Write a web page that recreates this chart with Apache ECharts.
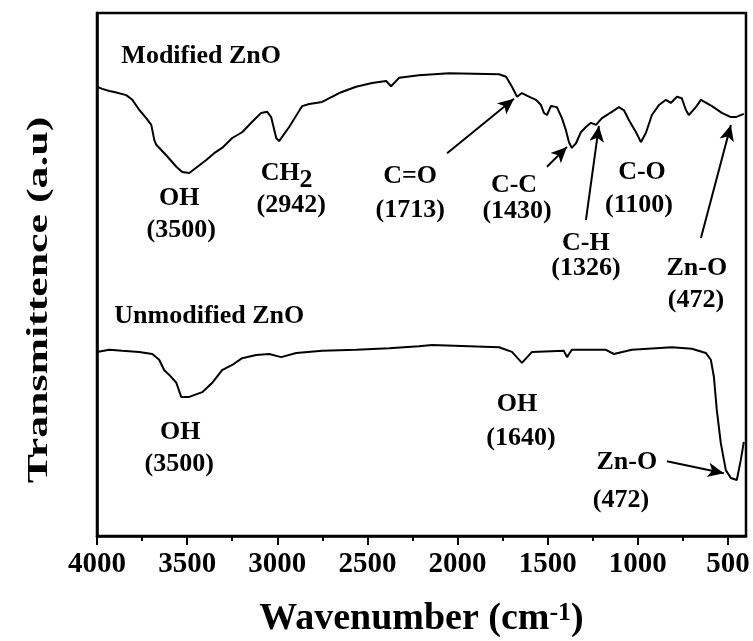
<!DOCTYPE html>
<html>
<head>
<meta charset="utf-8">
<script src="https://cdn.jsdelivr.net/npm/echarts@6/dist/echarts.min.js"></script>
<style>
html,body{margin:0;padding:0;background:#fff;}
#chart{width:753px;height:641px;}
</style>
</head>
<body>
<div id="chart"></div>
<script>
// ---- data ----
const modWavenumber = [4000,3971,3932,3904,3838,3804,3766,3727,3699,3682,3671,3616,3560,3527,3488,3450,3394,3350,3306,3250,3195,3139,3089,3056,3034,3006,2990,2934,2862,2823,2751,2657,2563,2474,2396,2369,2324,2214,2047,1770,1731,1698,1670,1643,1604,1565,1537,1521,1504,1482,1449,1421,1399,1382,1366,1343,1316,1288,1260,1232,1199,1144,1105,1077,1049,1010,983,955,922,883,844,817,783,756,734,717,678,650,589,534,484,456,412];
const modTransmittance = [85.9,85.5,85.1,84.9,84.3,83.4,81.5,79.9,78.6,75.7,74.8,72.8,70.6,69.6,69.4,70.4,71.9,73.2,74.2,76.1,77.2,79.2,80.9,81.1,80.1,76.1,75.5,78.2,82.2,82.6,83.0,84.7,85.9,86.6,87.0,86.0,87.6,88.1,88.5,88.3,87.8,85.9,84.0,84.7,84.0,83.4,82.4,80.9,80.5,82.2,82.0,79.9,77.6,75.3,74.2,75.1,77.2,78.2,79.0,78.6,79.9,81.1,82.0,81.4,79.5,77.2,75.3,77.1,80.5,82.4,83.4,82.8,84.0,83.7,81.5,80.5,82.0,83.4,82.2,80.9,80.1,80.1,80.7];

const unmodWavenumber = [4000,3932,3860,3766,3693,3655,3627,3599,3560,3533,3488,3416,3361,3306,3250,3195,3117,3045,2978,2895,2751,2563,2380,2214,2142,1770,1698,1643,1587,1410,1399,1393,1366,1177,1133,1033,811,700,623,595,578,562,540,512,484,451,429,412];
const unmodTransmittance = [35.2,35.6,35.4,35.2,34.8,33.7,31.7,30.8,29.3,26.6,26.6,27.5,29.3,31.7,32.7,34.0,34.6,34.8,34.2,35.0,35.4,35.6,35.9,36.3,36.5,36.1,35.2,33.1,35.2,35.4,35.4,34.2,35.6,35.6,34.8,35.6,36.1,35.8,35.0,33.7,30.4,24.1,17.8,12.6,11.1,10.7,14.5,18.0];

const majorTicks = [4000,3500,3000,2500,2000,1500,1000,500];
const minorTicks = [3750,3250,2750,2250,1750,1250,750];

const sampleNames = ['Modified ZnO','Unmodified ZnO'];
const sampleX = [3865,3904];
const sampleY = [91.7,42.1];

const bandLabels = ['OH','(3500)','CH','2','(2942)','C=O','(1713)','C-C','(1430)','C-H','(1326)','C-O','(1100)','Zn-O','(472)','OH','(3500)','OH','(1640)','Zn-O','(472)'];
const bandX = [3544,3533,2984,2840,2923,2263,2263,1687,1670,1288,1288,977,994,673,678,3538,3544,1670,1648,1061,1094];
const bandY = [64.6,58.5,69.3,68.0,63.3,68.8,62.3,67.1,62.1,56.0,51.2,69.6,63.3,51.2,45.1,19.9,13.7,25.2,18.7,14.1,6.9];

const arrowFromX = [2058,1504,1288,650,839];
const arrowFromY = [73.2,70.6,60.4,57.0,14.3];
const arrowToX = [1687,1393,1216,484,523];
const arrowToY = [83.6,74.4,78.4,78.6,12.0];

// ---- chart ----
const FONT = '"Liberation Serif", "Times New Roman", serif';
const chart = echarts.init(document.getElementById('chart'));

const pair = (xs, ys) => xs.map((x, i) => [x, ys[i]]);
const textStyle = {color: '#000', opacity: 1, fontFamily: FONT, fontWeight: 'bold', fontSize: 26, textBorderWidth: 0};

const option = {
  animation: false,
  backgroundColor: '#fff',
  grid: {left: 97, right: 7, top: 13, bottom: 105, outerBoundsMode: 'none', containLabel: false,
    show: true, borderColor: '#000', borderWidth: 2.5, backgroundColor: 'transparent'},
  xAxis: [{
    type: 'value', min: 400, max: 4000, inverse: true,
    axisLine: {show: true, lineStyle: {color: '#000', width: 2.5}},
    axisTick: {show: true, inside: false, length: 9, lineStyle: {color: '#000', width: 2}, customValues: majorTicks},
    axisLabel: {show: true, color: '#000', fontFamily: FONT, fontWeight: 'bold', fontSize: 29, margin: 14,
      customValues: majorTicks, formatter: v => String(v)},
    splitLine: {show: false},
    name: 'Wavenumber (cm{sup|-1})',
    nameLocation: 'middle', nameGap: 64,
    nameTextStyle: {color: '#000', fontFamily: FONT, fontWeight: 'bold', fontSize: 38,
      rich: {sup: {fontFamily: FONT, fontWeight: 'bold', fontSize: 26, color: '#000', verticalAlign: 'top'}}}
  }, {
    type: 'value', min: 400, max: 4000, inverse: true, position: 'bottom',
    axisLine: {show: false},
    axisTick: {show: true, inside: false, length: 5, lineStyle: {color: '#000', width: 2}, customValues: minorTicks},
    axisLabel: {show: false},
    splitLine: {show: false}
  }],
  yAxis: {
    type: 'value', min: 0, max: 100,
    axisLine: {show: true, lineStyle: {color: '#000', width: 2.5}},
    axisTick: {show: false}, axisLabel: {show: false}, splitLine: {show: false}
  },
  graphic: [{
    type: 'text', x: 39, y: 300, rotation: Math.PI / 2, scaleX: 1.46, scaleY: 1,
    style: {text: 'Transmittence (a.u)', font: 'bold 30px ' + FONT, fill: '#000',
      textAlign: 'center', textVerticalAlign: 'middle', align: 'center', verticalAlign: 'middle'}
  }],
  series: [{
    type: 'line', name: 'Modified ZnO', data: pair(modWavenumber, modTransmittance),
    showSymbol: false, symbol: 'none', lineStyle: {color: '#000', width: 2}, silent: true
  }, {
    type: 'line', name: 'Unmodified ZnO', data: pair(unmodWavenumber, unmodTransmittance),
    showSymbol: false, symbol: 'none', lineStyle: {color: '#000', width: 2}, silent: true
  }, {
    type: 'scatter', symbolSize: 0, silent: true, itemStyle: {opacity: 1, color: '#000'},
    data: sampleNames.map((n, i) => ({name: n, value: [sampleX[i], sampleY[i]]})),
    label: Object.assign({show: true, position: 'right', distance: 0, formatter: p => p.name}, textStyle)
  }, {
    type: 'scatter', symbolSize: 0, silent: true, itemStyle: {opacity: 1, color: '#000'},
    data: bandLabels.map((n, i) => ({name: n, value: [bandX[i], bandY[i]]})),
    label: Object.assign({show: true, position: 'inside', formatter: p => p.name}, textStyle),
    labelLayout: {hideOverlap: false},
    markLine: {
      silent: true, symbol: ['none', 'arrow'], symbolSize: [11, 16], precision: 2,
      lineStyle: {color: '#000', width: 2, type: 'solid', opacity: 1},
      itemStyle: {color: '#000'},
      label: {show: false},
      data: arrowFromX.map((x, i) => [{coord: [x, arrowFromY[i]]}, {coord: [arrowToX[i], arrowToY[i]]}])
    }
  }]
};
chart.setOption(option);
</script>
</body>
</html>
